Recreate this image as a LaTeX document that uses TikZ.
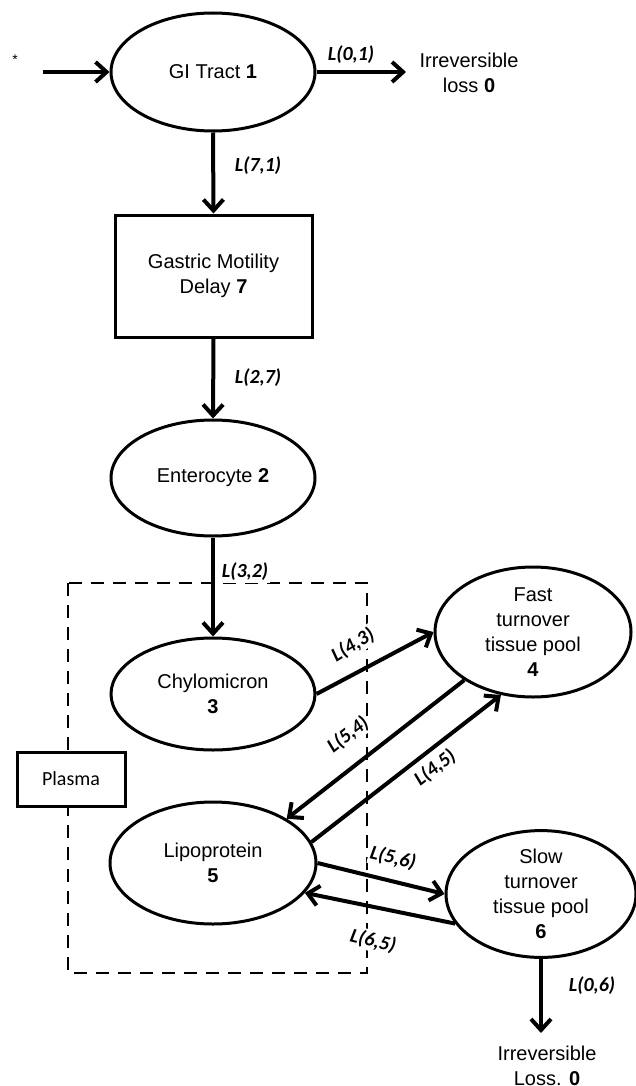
\documentclass[tikz,border=0pt]{standalone}
\usepackage{fontspec}
\setmainfont{Liberation Sans}
\newfontfamily\labfont{Carlito}
\usetikzlibrary{shapes.geometric,arrows.meta}
\begin{document}
\begin{tikzpicture}[x=0.5pt,y=-0.5pt,
  every node/.style={font=\fontsize{10pt}{12.5pt}\selectfont, align=center, inner sep=0pt},
  pool/.style={ellipse, draw, line width=1.5pt, fill=white},
  boxnode/.style={rectangle, draw, line width=1.5pt, fill=white},
  flow/.style={line width=2pt, -{Straight Barb[length=5.5pt,width=10pt,line width=2pt]}},
  lab/.style={font=\fontsize{10pt}{12pt}\labfont\bfseries\itshape, fill=white, inner sep=0.8pt},
  plasmaline/.style={line width=1.4pt, dash pattern=on 6.5pt off 4.5pt}
]
\useasboundingbox (0,0) rectangle (636,1086);

% dashed plasma compartment
\draw[plasmaline] (68,583) rectangle (367,973);

% nodes
\node (star) at (15,60) {\fontsize{7pt}{8pt}\selectfont *};
\node[pool, minimum width=102pt, minimum height=59pt] (gi) at (213,72) {GI Tract \textbf{1}};
\node (loss1) at (469,73) {Irreversible\\loss \textbf{0}};
\node[boxnode, minimum width=98.5pt, minimum height=61pt] (gm) at (213.5,276) {Gastric Motility\\Delay \textbf{7}};
\node[pool, minimum width=102pt, minimum height=58pt] (ent) at (213,478) {Enterocyte \textbf{2}};
\node[pool, minimum width=102pt, minimum height=56pt] (chy) at (213,694) {Chylomicron\\\textbf{3}};
\node[pool, minimum width=98pt, minimum height=65pt] (fast) at (533,632) {Fast\\turnover\\tissue pool\\\textbf{4}};
\node[pool, minimum width=103pt, minimum height=61pt] (lip) at (213,863) {Lipoprotein\\\textbf{5}};
\node[pool, minimum width=95pt, minimum height=61pt] (slow) at (541,894) {Slow\\turnover\\tissue pool\\\textbf{6}};
\node[boxnode, minimum width=54pt, minimum height=27pt, font=\fontsize{10pt}{11pt}\labfont] (plasma) at (71,779) {Plasma};
\node (loss6) at (547,1066) {Irreversible\\Loss. \textbf{0}};

\coordinate (in) at (43,72);
\coordinate (out1) at (406,72);
\coordinate (out6) at (541,1033);

% labels (drawn before connectors so fills do not hide arrows)
\node[lab] (l01) at (351,55) {L(0,1)};
\node[lab] (l71) at (258,166) {L(7,1)};
\node[lab] (l27) at (258,378) {L(2,7)};
\node[lab] (l32) at (245,572) {L(3,2)};
\node[lab, rotate=32] (l43) at (353,645) {L(4,3)};
\node[lab, rotate=38] (l54) at (348,735) {L(5,4)};
\node[lab, rotate=38] (l45) at (435,768) {L(4,5)};
\node[lab, rotate=-13] (l56) at (393,858) {L(5,6)};
\node[lab, rotate=-14] (l65) at (373,941) {L(6,5)};
\node[lab] (l06) at (592,986) {L(0,6)};

% connectors
\draw[flow] (in) -- (gi.west);
\draw[flow] (gi.east) -- (out1);
\draw[flow] (gi.south) -- (gm.north);
\draw[flow] (gm.south) -- (ent.north);
\draw[flow] (ent.south) -- (chy.north);
\draw[flow] (chy.east) -- (fast.west);
\draw[flow] (fast.215) -- (lip.31);
\draw[flow] (lip.12) -- (fast.243);
\draw[flow] (lip.east) -- (slow.west);
\draw[flow] (slow.199) -- (lip.342);
\draw[flow] (slow.south) -- (out6);
\end{tikzpicture}
\end{document}
